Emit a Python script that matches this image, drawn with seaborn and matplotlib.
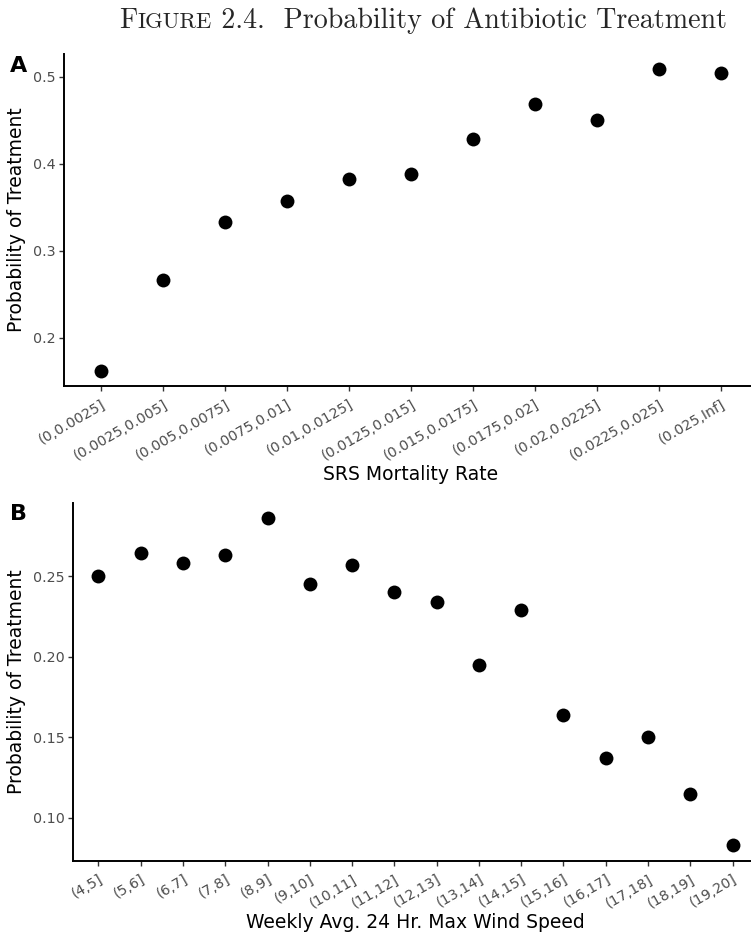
import matplotlib
matplotlib.use("Agg")
import matplotlib.pyplot as plt
import seaborn as sns
import pandas as pd
from matplotlib.offsetbox import TextArea, HPacker, AnchoredOffsetbox

# --- data ---
mort_bins = ["(0,0.0025]", "(0.0025,0.005]", "(0.005,0.0075]", "(0.0075,0.01]",
             "(0.01,0.0125]", "(0.0125,0.015]", "(0.015,0.0175]", "(0.0175,0.02]",
             "(0.02,0.0225]", "(0.0225,0.025]", "(0.025,Inf]"]
mort_prob = [0.162, 0.266, 0.333, 0.357, 0.382, 0.388, 0.428, 0.469, 0.450, 0.509, 0.504]

wind_bins = ["(4,5]", "(5,6]", "(6,7]", "(7,8]", "(8,9]", "(9,10]", "(10,11]", "(11,12]",
             "(12,13]", "(13,14]", "(14,15]", "(15,16]", "(16,17]", "(17,18]", "(18,19]", "(19,20]"]
wind_prob = [0.250, 0.264, 0.258, 0.263, 0.286, 0.245, 0.257, 0.240,
             0.234, 0.195, 0.229, 0.164, 0.137, 0.150, 0.115, 0.083]

A_YTICKS = [0.2, 0.3, 0.4, 0.5]
B_YTICKS = [0.10, 0.15, 0.20, 0.25]

sns.set_theme(style="white")
plt.rcParams['font.family'] = ['DejaVu Sans']

TICK_COL = "#4D4D4D"

fig = plt.figure(figsize=(7.51, 9.32), dpi=100)
W, H = 751, 932


def make_axes(left, top, bottom, right=758):
    return fig.add_axes([left / W, (H - bottom) / H, (right - left) / W, (bottom - top) / H])


def style_panel(ax, cats, yticks, ylim, yfmt, xlabel):
    ax.set_xlim(-0.6, len(cats) - 0.4)
    ax.set_ylim(*ylim)
    ax.set_yticks(yticks)
    ax.set_yticklabels([yfmt.format(v) for v in yticks])
    ax.set_xticks(range(len(cats)))
    ax.set_xticklabels(cats, rotation=30, ha="right", va="top", rotation_mode="anchor")
    for s in ["top", "right"]:
        ax.spines[s].set_visible(False)
    for s in ["left", "bottom"]:
        ax.spines[s].set_color("black")
        ax.spines[s].set_linewidth(1.4)
    ax.tick_params(axis="both", which="major", length=3.5, width=1.0, color="#333333",
                   labelcolor=TICK_COL, labelsize=10.3, pad=2.5, bottom=True, left=True)
    ax.tick_params(axis="x", pad=4.5)
    ax.set_xlabel(xlabel, fontsize=13.5, color="black", labelpad=2)
    ax.set_ylabel("Probability of Treatment", fontsize=13.5, color="black")
    ax.grid(False)


# --- Panel A ---
axA = make_axes(64, 54, 386)
dfA = pd.DataFrame({"bin": mort_bins, "prob": mort_prob})
sns.stripplot(data=dfA, x="bin", y="prob", order=mort_bins, jitter=False,
              color="black", size=10, linewidth=0, ax=axA)
style_panel(axA, mort_bins, A_YTICKS, (0.1445, 0.526), "{:.1f}", "SRS Mortality Rate")

# --- Panel B ---
axB = make_axes(73, 503, 861)
dfB = pd.DataFrame({"bin": wind_bins, "prob": wind_prob})
sns.stripplot(data=dfB, x="bin", y="prob", order=wind_bins, jitter=False,
              color="black", size=10, linewidth=0, ax=axB)
style_panel(axB, wind_bins, B_YTICKS, (0.0733, 0.2953), "{:.2f}",
            "Weekly Avg. 24 Hr. Max Wind Speed")

# y labels: right edge of rotated text at x ~ 26 px
axA.yaxis.set_label_coords(-(64 - 26) / (758 - 64), 0.5)
axB.yaxis.set_label_coords(-(73 - 26) / (758 - 73), 0.5)

# panel tags
fig.text(10 / W, 1 - 72 / H, "A", fontsize=16, fontweight="bold", color="black")
fig.text(10 / W, 1 - 520 / H, "B", fontsize=16, fontweight="bold", color="black")

# title with small caps "Figure"
big, small = 20.2, 16.2
parts = [TextArea("F", textprops=dict(family="cmr10", size=big)),
         TextArea("IGURE", textprops=dict(family="cmr10", size=small)),
         TextArea(" 2.4.  Probability of Antibiotic Treatment", textprops=dict(family="cmr10", size=big))]
box = HPacker(children=parts, align="baseline", pad=0, sep=0)
anch = AnchoredOffsetbox(loc="upper center", child=box, frameon=False,
                         bbox_to_anchor=(0.563, 1 - 7 / H), bbox_transform=fig.transFigure,
                         borderpad=0, pad=0)
fig.add_artist(anch)

fig.savefig("out.png", dpi=100)
